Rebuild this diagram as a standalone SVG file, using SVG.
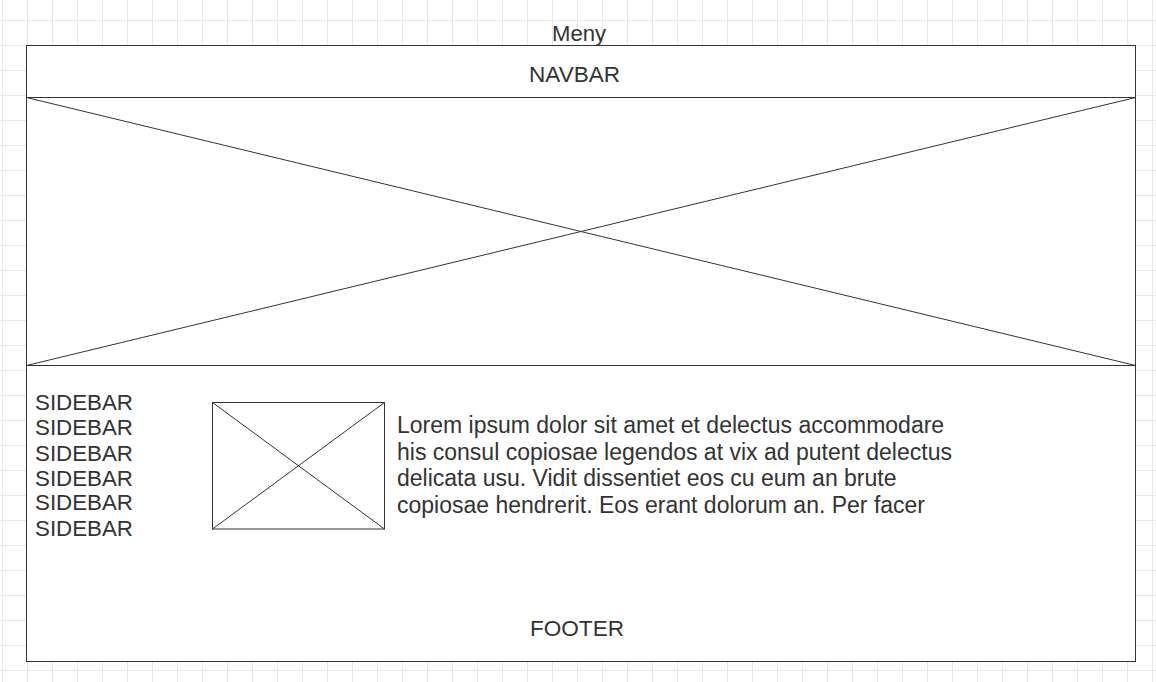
<svg xmlns="http://www.w3.org/2000/svg" width="1156" height="682" viewBox="0 0 1156 682">
  <defs>
    <pattern id="grid" x="2" y="20" width="25" height="25" patternUnits="userSpaceOnUse">
      <path d="M0.5 0 V25 M0 0.5 H25" fill="none" stroke="#e8e8e8" stroke-width="1"/>
    </pattern>
    <style>
      .box { fill: #ffffff; stroke: #333333; stroke-width: 1; }
      .ln { fill: none; stroke: #333333; stroke-width: 1; }
      .t { font-family: "Liberation Sans", Arial, Helvetica, sans-serif; font-size: 22px; fill: #333333; }
      .body { font-size: 23px; }
    </style>
  </defs>
  <rect x="0" y="0" width="1156" height="682" fill="#ffffff"/>
  <rect x="0" y="0" width="1156" height="682" fill="url(#grid)"/>

  <g id="menu-label">
    <text class="t" x="552" y="41" textLength="54" lengthAdjust="spacingAndGlyphs">Meny</text>
  </g>

  <g id="page-frame">
    <rect class="box" x="26.5" y="45.5" width="1109" height="616"/>
  </g>

  <g id="navbar">
    <rect class="box" x="26.5" y="45.5" width="1109" height="52"/>
    <text class="t" x="529" y="82" textLength="91" lengthAdjust="spacingAndGlyphs">NAVBAR</text>
  </g>

  <g id="hero-image">
    <rect class="box" x="26.5" y="97.5" width="1109" height="268"/>
    <path class="ln" d="M26.5 97.5 L1135.5 365.5 M26.5 365.5 L1135.5 97.5"/>
  </g>

  <g id="sidebar">
    <text class="t" x="35" y="409.5" textLength="98" lengthAdjust="spacingAndGlyphs">SIDEBAR</text>
    <text class="t" x="35" y="435" textLength="98" lengthAdjust="spacingAndGlyphs">SIDEBAR</text>
    <text class="t" x="35" y="460.5" textLength="98" lengthAdjust="spacingAndGlyphs">SIDEBAR</text>
    <text class="t" x="35" y="486" textLength="98" lengthAdjust="spacingAndGlyphs">SIDEBAR</text>
    <text class="t" x="35" y="510" textLength="98" lengthAdjust="spacingAndGlyphs">SIDEBAR</text>
    <text class="t" x="35" y="535.5" textLength="98" lengthAdjust="spacingAndGlyphs">SIDEBAR</text>
  </g>

  <g id="image-placeholder">
    <rect class="box" x="212.5" y="402.5" width="172" height="126.5"/>
    <path class="ln" d="M212.5 402.5 L384.5 529 M212.5 529 L384.5 402.5"/>
  </g>

  <g id="body-text">
    <text class="t body" x="397" y="433">Lorem ipsum dolor sit amet et delectus accommodare</text>
    <text class="t body" x="397" y="459.5">his consul copiosae legendos at vix ad putent delectus</text>
    <text class="t body" x="397" y="486">delicata usu. Vidit dissentiet eos cu eum an brute</text>
    <text class="t body" x="397" y="512.5">copiosae hendrerit. Eos erant dolorum an. Per facer</text>
  </g>

  <g id="footer">
    <text class="t" x="530" y="636" textLength="94" lengthAdjust="spacingAndGlyphs">FOOTER</text>
  </g>

  <g id="connectors"/>
</svg>
